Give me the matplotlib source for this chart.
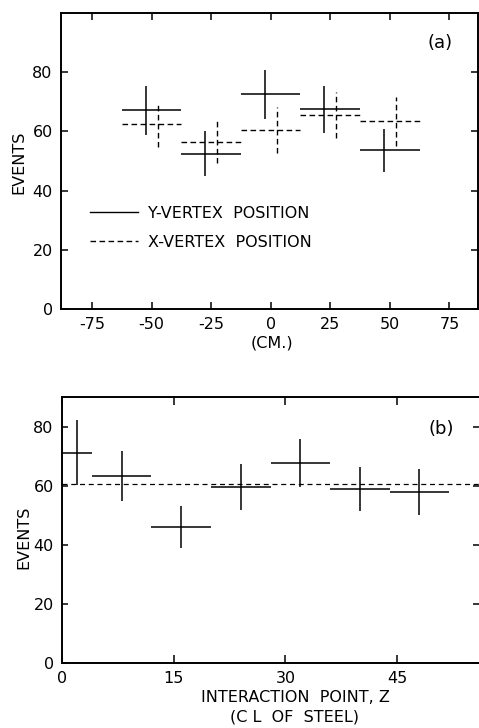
import matplotlib.pyplot as plt
from matplotlib.lines import Line2D

# Panel (a): events vs vertex position (cm)
bin_centers_a = [-50, -25, 0, 25, 50]
bin_half_a = [12.5, 12.5, 12.5, 12.5, 12.5]
y_vertex = [67.1, 52.4, 72.5, 67.4, 53.6]
y_vertex_err = [8.3, 7.6, 8.3, 8.0, 7.3]
x_vertex = [62.4, 56.4, 60.5, 65.5, 63.4]
x_vertex_err = [7.6, 7.1, 7.9, 7.7, 8.3]

# Panel (b): events vs interaction point
z_centers = [2, 8, 16, 24, 32, 40, 48]
z_half = [2, 4, 4, 4, 4, 4, 4]
z_events = [71.2, 63.3, 45.9, 59.6, 67.7, 58.8, 57.9]
z_err = [11.0, 8.4, 7.1, 7.9, 8.0, 7.5, 7.7]
z_mean = 60.4

plt.rcParams['font.family'] = 'DejaVu Sans'
plt.rcParams['font.size'] = 11.5
plt.rcParams['axes.unicode_minus'] = False

fig = plt.figure(figsize=(4.79, 7.28), dpi=100)
ax1 = fig.add_axes([61 / 479, 1 - 309 / 728, 417 / 479, 296 / 728])
ax2 = fig.add_axes([62 / 479, 1 - 663 / 728, 417 / 479, 266 / 728])

dash = (0, (4, 2.5))
off = 2.5  # error bars of the two series are drawn side by side

ax1.errorbar([c - off for c in bin_centers_a], y_vertex, yerr=y_vertex_err,
             fmt='none', ecolor='black', elinewidth=1.1, capsize=0)
ax1.hlines(y_vertex, [c - h for c, h in zip(bin_centers_a, bin_half_a)],
           [c + h for c, h in zip(bin_centers_a, bin_half_a)], color='black', lw=1.1)
eb2 = ax1.errorbar([c + off for c in bin_centers_a], x_vertex, yerr=x_vertex_err,
                   fmt='none', ecolor='black', elinewidth=1.0, capsize=0)
eb2[2][0].set_linestyle(dash)
ax1.hlines(x_vertex, [c - h for c, h in zip(bin_centers_a, bin_half_a)],
           [c + h for c, h in zip(bin_centers_a, bin_half_a)], color='black', lw=1.0,
           linestyles=[dash])

ax1.set_xlim(-88, 87)
ax1.set_ylim(0, 100)
ax1.set_xticks([-75, -50, -25, 0, 25, 50, 75])
ax1.set_yticks([0, 20, 40, 60, 80])
ax1.tick_params(direction='in', top=True, right=True, length=5, width=1.1, pad=6)
# longer tick mark at zero
ax1.set_xticks([0], minor=True)
ax1.tick_params(axis='x', which='minor', direction='in', top=True, length=12.5, width=1.1)
ax1.tick_params(axis='y', which='minor', left=False, right=False)
ax1.text(0.91, 0.9, '(a)', transform=ax1.transAxes, ha='center', va='center',
         fontsize=13)

handles = [Line2D([], [], color='black', lw=1.0),
           Line2D([], [], color='black', lw=1.0, linestyle=dash)]
ax1.legend(handles, ['Y-VERTEX  POSITION', 'X-VERTEX  POSITION'], loc='center left',
           bbox_to_anchor=(0.07, 0.274), frameon=False, handlelength=3.0,
           handletextpad=0.65, labelspacing=0.9, borderpad=0, borderaxespad=0)

fig.text(272 / 479, 1 - 343 / 728, '(CM.)', ha='center', va='center')
fig.text(19 / 479, 1 - 162 / 728, 'EVENTS', rotation=90, ha='center', va='center')

ax2.errorbar(z_centers, z_events, xerr=z_half, yerr=z_err, fmt='none',
             ecolor='black', elinewidth=1.1, capsize=0)
ax2.axhline(z_mean, color='black', lw=0.9, linestyle=(0, (4, 3)))
ax2.set_xlim(0, 56)
ax2.set_ylim(0, 90)
ax2.set_xticks([0, 15, 30, 45])
ax2.set_yticks([0, 20, 40, 60, 80])
ax2.spines['right'].set_visible(False)
ax2.tick_params(direction='in', top=True, right=True, length=6, width=1.1, pad=6)
ax2.tick_params(axis='y', right=True, length=4.5)
ax2.text(0.91, 0.88, '(b)', transform=ax2.transAxes, ha='center', va='center',
         fontsize=13)

fig.text(295 / 479, 1 - 697 / 728, 'INTERACTION  POINT, Z', ha='center', va='center')
fig.text(295 / 479, 1 - 717 / 728, '(C L  OF  STEEL)', ha='center', va='center')
fig.text(24 / 479, 1 - 537 / 728, 'EVENTS', rotation=90, ha='center', va='center')

for ax in (ax1, ax2):
    for s in ax.spines.values():
        s.set_linewidth(1.4)

fig.savefig('out.png', dpi=100)
